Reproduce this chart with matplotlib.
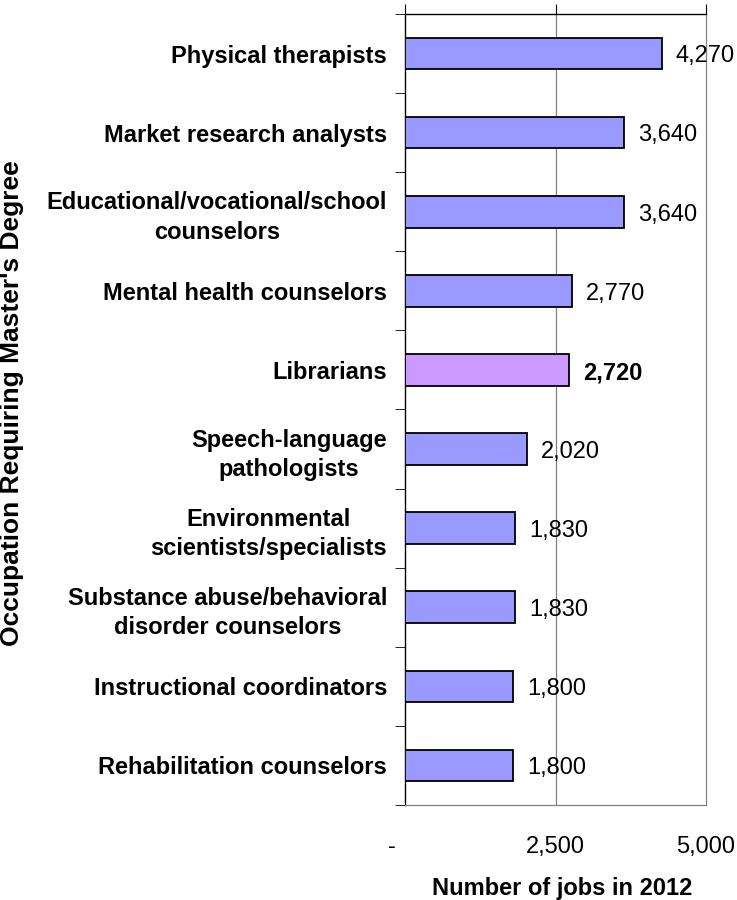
import matplotlib.pyplot as plt
from matplotlib.ticker import FixedLocator
import matplotlib.transforms as mtransforms

plt.rcParams['font.family'] = ['Liberation Sans', 'DejaVu Sans']

occupations = ['Physical therapists', 'Market research analysts',
               'Educational/vocational/school\ncounselors', 'Mental health counselors',
               'Librarians', 'Speech-language\npathologists',
               'Environmental\nscientists/specialists',
               'Substance abuse/behavioral\ndisorder counselors',
               'Instructional coordinators', 'Rehabilitation counselors']
jobs = [4270, 3640, 3640, 2770, 2720, 2020, 1830, 1830, 1800, 1800]
highlight = 'Librarians'
xticks = [0, 2500, 5000]
xticklabels = ['-', '2,500', '5,000']

fig = plt.figure(figsize=(7.37, 9.0), dpi=100)
ax = fig.add_axes([0.5495, 0.1056, 0.4085, 0.8788])

n = len(occupations)
ypos = list(range(n))
colors = ['#CC99FF' if o == highlight else '#9999FF' for o in occupations]
ax.barh(ypos, jobs, height=0.4, color=colors, edgecolor='black', linewidth=1.3, zorder=3)

ax.set_xlim(0, 5000)
ax.set_ylim(n - 0.5, -0.5)

# value labels
for y, v, o in zip(ypos, jobs, occupations):
    ax.annotate('{:,}'.format(v), xy=(v, y), xytext=(10, -2), textcoords='offset points',
                va='center', ha='left', fontsize=17,
                fontweight='bold' if o == highlight else 'normal', zorder=4,
                annotation_clip=False)

# grid and spines
ax.axvline(2500, color='#808080', linewidth=0.9, zorder=1)
for s in ['right', 'bottom']:
    ax.spines[s].set_color('#808080')
    ax.spines[s].set_linewidth(0.9)
for s in ['left', 'top']:
    ax.spines[s].set_color('black')
    ax.spines[s].set_linewidth(1.0)

ax.set_xticks(xticks)
ax.set_xticklabels(xticklabels, fontsize=17)
ax.tick_params(axis='x', top=True, bottom=False, labeltop=False, labelbottom=True,
               direction='out', length=7, pad=15)
ax.get_xticklabels()[0].set_transform(
    ax.get_xticklabels()[0].get_transform() + mtransforms.ScaledTranslation(-0.13, 0, fig.dpi_scale_trans))

ax.set_yticks(ypos)
ax.set_yticklabels(occupations, fontsize=17, fontweight='bold', multialignment='center',
                   linespacing=1.35)
ax.tick_params(axis='y', which='major', length=0, pad=13)
ax.yaxis.set_minor_locator(FixedLocator([i - 0.5 for i in range(n + 1)]))
ax.tick_params(axis='y', which='minor', length=7, direction='out')

fig.text(0.7625, 0.0056, 'Number of jobs in 2012', ha='center', va='baseline',
         fontsize=17, fontweight='bold')
fig.text(0.016, 0.552, "Occupation Requiring Master's Degree", rotation=90,
         ha='center', va='center', fontsize=19, fontweight='bold')

fig.savefig('out.png', dpi=100)
